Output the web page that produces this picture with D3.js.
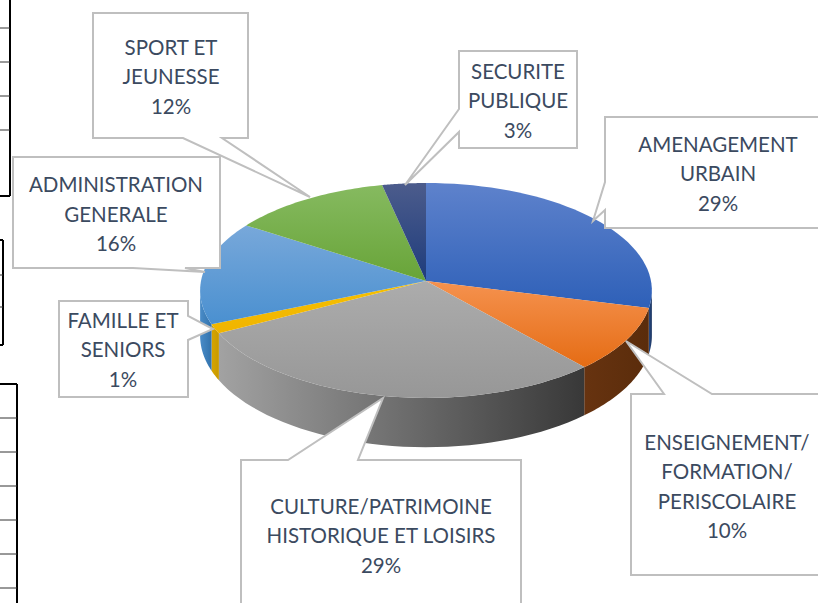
<!DOCTYPE html>
<html><head><meta charset="utf-8">
<script src="https://cdn.jsdelivr.net/npm/d3@7"></script>
<style>html,body{margin:0;padding:0;background:#fff;overflow:hidden}svg{display:block}</style>
</head><body><svg id="c" width="818" height="603"></svg>
<script>
// ---- data ----
const categories = ["AMENAGEMENT URBAIN","ENSEIGNEMENT/ FORMATION/ PERISCOLAIRE","CULTURE/PATRIMOINE HISTORIQUE ET LOISIRS","FAMILLE ET SENIORS","ADMINISTRATION GENERALE","SPORT ET JEUNESSE","SECURITE PUBLIQUE"];
const values = [29,9.6,28.6,1.4,15.6,12.4,3.4];
const labelLines = [["AMENAGEMENT","URBAIN"],["ENSEIGNEMENT/","FORMATION/","PERISCOLAIRE"],["CULTURE/PATRIMOINE","HISTORIQUE ET LOISIRS"],["FAMILLE ET","SENIORS"],["ADMINISTRATION","GENERALE"],["SPORT ET","JEUNESSE"],["SECURITE","PUBLIQUE"]];
// ---- style ----
const topTop  = ["#5e82cc","#f5924f","#acacac","#f6c000","#78a8da","#86ba60","#4c5c8c"];
const topBot  = ["#2e60b8","#e56c14","#979797","#f0b400","#4a90d0","#68a438","#1e3c7c"];
const wallL   = ["#264a86","#673310","#a2a2a2","#d6a400","#4a8cc8","#5a8f30","#2a3f70"];
const wallR   = ["#1c3560","#5a2c0b","#383838","#c89a00","#3272ac","#4a7a28","#2a3f70"];
// ---- callout layout: centre of text, first line y, outline ----
const textCentre = [718,727,381,123,116,171,518];
const textTop = [144.5,442.5,506.5,320.5,185,47.5,71.5];
const outlines = [
 [[605,117],[830,117],[830,228],[605,228],[605,210],[593,221],[605,182]],
 [[631,394],[664,394],[626,341],[712,394],[830,394],[830,575],[631,575]],
 [[241,460],[288,460],[383,398],[358,460],[521,460],[521,615],[241,615]],
 [[59,301],[188,301],[188,316],[213,329],[188,340],[188,397],[59,397]],
 [[13,157],[220,157],[220,268],[185,268],[205,272],[133,268],[13,268]],
 [[93,13],[248,13],[248,138],[222,138],[310,197],[183,138],[93,138]],
 [[459,51],[577,51],[577,148],[459,148],[459,132],[405,185],[459,109]]
];
// background table fragments
const tableVerticals = [[10,0,196],[3,240,345],[17,384,603]];
const tableRows = [[0,10,[28,62,96,130]],[0,3,[275,307]],[0,17,[418,452,486,520,554,588]]];
const tableEdges = [[0,10,196],[0,3,240],[0,3,345],[0,17,384]];

const svg = d3.select("#c");
const defs = svg.append("defs");
const cx=426, cy=281, Rx=225, Ry=106.6, k=0.088, depth=45;
const w = t => 1 + k*Math.cos(t);
const rim = t => [cx + Rx*Math.sin(t)/w(t), cy - Ry*Math.cos(t)/w(t)];
const base = t => { const p = rim(t); return [p[0], p[1] + depth/w(t)]; };
const line = d3.line();
const samples = (a,b) => d3.range(0,41).map(i => a+(b-a)*i/40);

// table fragments
const tg = svg.append("g").attr("stroke","#000");
tableVerticals.forEach(v => tg.append("line").attr("x1",v[0]).attr("x2",v[0]).attr("y1",v[1]).attr("y2",v[2]).attr("stroke-width",2));
tableRows.forEach(r => r[2].forEach(y => tg.append("line").attr("x1",r[0]).attr("x2",r[1]).attr("y1",y).attr("y2",y).attr("stroke-width",1).attr("stroke","#333")));
tableEdges.forEach(e => tg.append("line").attr("x1",e[0]).attr("x2",e[1]).attr("y1",e[2]).attr("y2",e[2]).attr("stroke-width",2));

const arcs = d3.pie().sort(null).value(d=>d)(values);
const thetaA = Math.acos(-k), thetaB = 2*Math.PI - thetaA;

// walls
const gW = svg.append("g");
arcs.forEach((d,i) => {
  const a = Math.max(d.startAngle, thetaA), b = Math.min(d.endAngle, thetaB);
  if (a >= b) return;
  const pts = samples(a,b);
  const xs = pts.map(t=>rim(t)[0]);
  const g = defs.append("linearGradient").attr("id","w"+i).attr("gradientUnits","userSpaceOnUse")
    .attr("x1",d3.min(xs)).attr("x2",d3.max(xs)).attr("y1",0).attr("y2",0);
  g.append("stop").attr("offset",0).attr("stop-color",wallL[i]);
  g.append("stop").attr("offset",1).attr("stop-color",wallR[i]);
  const outline = pts.map(rim).concat(pts.slice().reverse().map(base));
  gW.append("path").attr("d",line(outline)+"Z").attr("fill",`url(#w${i})`);
});

// top faces
const gT = svg.append("g");
arcs.forEach((d,i) => {
  const pts = samples(d.startAngle,d.endAngle).map(rim);
  const all = pts.concat([[cx,cy]]);
  const ys = all.map(p=>p[1]);
  const g = defs.append("linearGradient").attr("id","t"+i).attr("gradientUnits","userSpaceOnUse")
    .attr("x1",0).attr("x2",0).attr("y1",d3.min(ys)).attr("y2",d3.max(ys));
  g.append("stop").attr("offset",0).attr("stop-color",topTop[i]);
  g.append("stop").attr("offset",1).attr("stop-color",topBot[i]);
  gT.append("path").attr("d",line(all)+"Z").attr("fill",`url(#t${i})`);
});

// callouts
const gC = svg.append("g");
outlines.forEach(o => gC.append("path").attr("d",line(o)+"Z").attr("fill","#fff").attr("stroke","#bfbfbf").attr("stroke-width",2).attr("stroke-linejoin","miter"));
const fmt = d3.format(".0%"), total = d3.sum(values);
labelLines.forEach((ls,i) => {
  const all = ls.concat(fmt(values[i]/total));
  all.forEach((s,j) => gC.append("text").attr("x",textCentre[i]).attr("y",textTop[i]+j*29.5)
    .attr("dy","0.35em").attr("text-anchor","middle").attr("fill","#3b4a60")
    .attr("font-family","Lato, Carlito, sans-serif").attr("font-size",20.5).text(s));
});
</script></body></html>
